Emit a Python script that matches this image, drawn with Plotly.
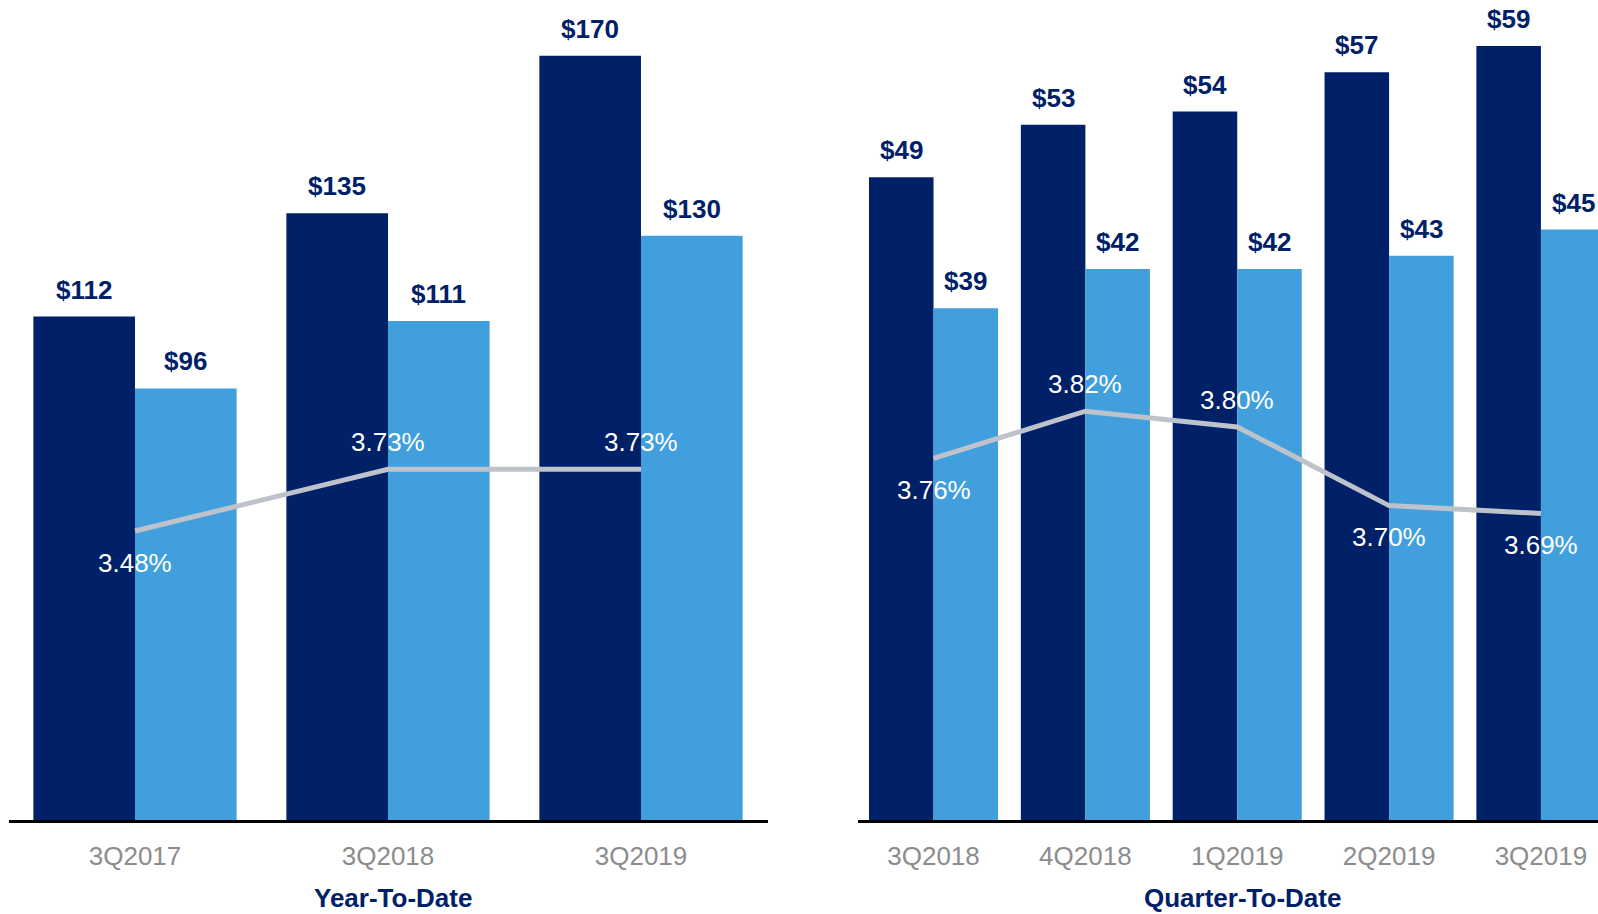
import plotly.graph_objects as go

# ---------------- data ----------------
ytd_cats = ["3Q2017", "3Q2018", "3Q2019"]
ytd_dark = [112, 135, 170]
ytd_light = [96, 111, 130]
ytd_pct = [3.48, 3.73, 3.73]

qtd_cats = ["3Q2018", "4Q2018", "1Q2019", "2Q2019", "3Q2019"]
qtd_dark = [49, 53, 54, 57, 59]
qtd_light = [39, 42, 42, 43, 45]
qtd_pct = [3.76, 3.82, 3.80, 3.70, 3.69]

panel_titles = ["Year-To-Date", "Quarter-To-Date"]

# ---------------- style ----------------
DARK = "#002068"
LIGHT = "#419FDE"
GREY_LINE = "#BEC3CB"
TICK_GREY = "#8C8C8C"
FONT = "Arial, Liberation Sans, sans-serif"
W, H = 1598, 914

ytd_pos = ["below", "above", "above"]
qtd_pos = ["below", "above", "above", "below", "below"]

fig = go.Figure()
annotations = []


def add_panel(cats, dark, light, pct, pos, bw, xa, ya, ya2):
    idx = list(range(len(cats)))
    fig.add_trace(go.Bar(x=idx, y=dark, width=bw, offset=-bw, marker_color=DARK,
                         marker_line_width=0, xaxis=xa, yaxis=ya, showlegend=False,
                         hoverinfo="skip"))
    fig.add_trace(go.Bar(x=idx, y=light, width=bw, offset=0, marker_color=LIGHT,
                         marker_line_width=0, xaxis=xa, yaxis=ya, showlegend=False,
                         hoverinfo="skip"))
    fig.add_trace(go.Scatter(x=idx, y=pct, mode="lines",
                             line=dict(color=GREY_LINE, width=5),
                             xaxis=xa, yaxis=ya2, showlegend=False, hoverinfo="skip"))
    for i in idx:
        for v, dx in ((dark[i], -bw / 2), (light[i], bw / 2)):
            annotations.append(dict(x=i + dx, y=v, xref=xa, yref=ya, text=f"<b>${v}</b>",
                                    showarrow=False, yanchor="middle", yshift=27,
                                    font=dict(family=FONT, size=26, color=DARK)))
        annotations.append(dict(x=i, y=pct[i], xref=xa, yref=ya2,
                                text=f"{pct[i]:.2f}%", showarrow=False, yanchor="middle",
                                yshift=27 if pos[i] == "above" else -31.5,
                                font=dict(family=FONT, size=26, color="white")))


add_panel(ytd_cats, ytd_dark, ytd_light, ytd_pct, ytd_pos, 0.4017, "x", "y", "y2")
add_panel(qtd_cats, qtd_dark, qtd_light, qtd_pct, qtd_pos, 0.425, "x2", "y3", "y4")

ydom = [(H - 820) / H, (H - 10) / H]

common_x = dict(showline=True, linecolor="black", linewidth=2.5, showgrid=False,
                zeroline=False, ticks="outside", ticklen=11, tickcolor="rgba(0,0,0,0)",
                tickfont=dict(family=FONT, size=26, color=TICK_GREY), fixedrange=True)

fig.update_layout(
    width=W, height=H,
    margin=dict(l=0, r=0, t=0, b=0),
    paper_bgcolor="white", plot_bgcolor="white",
    barmode="overlay",
    xaxis=dict(domain=[8.5 / W, 767.5 / W], range=[-0.5, 2.5], anchor="y",
               tickvals=list(range(len(ytd_cats))), ticktext=ytd_cats, **common_x),
    yaxis=dict(domain=ydom, range=[0, 180.2], visible=False, anchor="x", fixedrange=True),
    yaxis2=dict(overlaying="y", range=[2.309, 5.591], visible=False, anchor="x"),
    xaxis2=dict(domain=[857.6 / W, 1.0], range=[-0.5, -0.5 + (W - 857.6) / 151.85], anchor="y3",
                tickvals=list(range(len(qtd_cats))), ticktext=qtd_cats, **common_x),
    yaxis3=dict(domain=ydom, range=[0, 61.74], visible=False, anchor="x2", fixedrange=True),
    yaxis4=dict(overlaying="y3", range=[3.3003, 4.3301], visible=False, anchor="x2"),
)

for title, cx in zip(panel_titles, [393.3, 1242.3]):
    annotations.append(dict(x=cx / W, y=0, xref="paper", yref="paper",
                            text=f"<b>{title}</b>", showarrow=False, borderpad=0,
                            xanchor="center", yanchor="bottom",
                            font=dict(family=FONT, size=26, color=DARK)))
fig.update_layout(annotations=annotations)

fig.write_html("out.html", config={"displayModeBar": False},
               post_script="document.body.style.margin='0';document.body.style.overflow='hidden';")
